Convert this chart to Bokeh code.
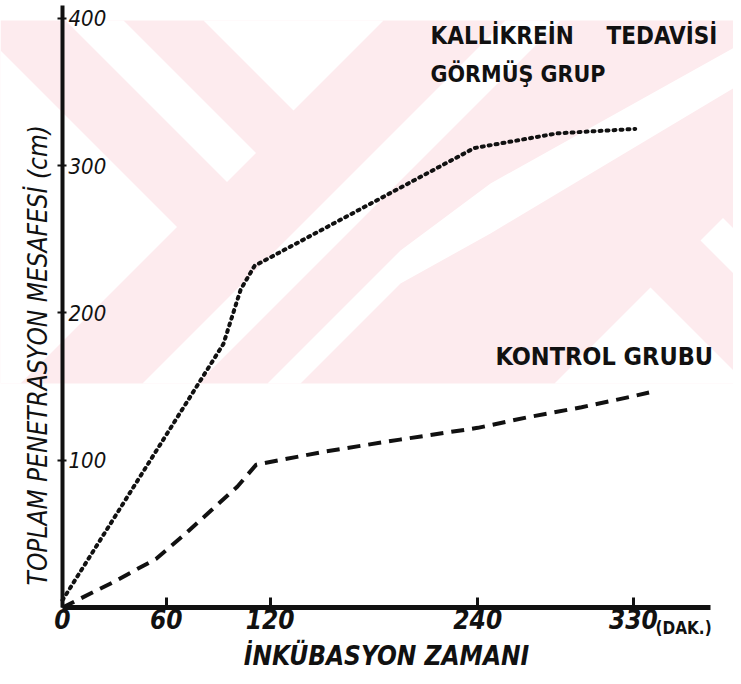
from math import pi
from bokeh.plotting import figure
from bokeh.models import FixedTicker, Label, PolyAnnotation, Range1d
from bokeh.core.properties import value
from bokeh.embed import file_html
from bokeh.resources import INLINE

# ---------------- data ----------------
time_kallikrein = [0, 93, 103, 111, 238, 286, 331]          # dakika
dist_kallikrein = [5, 179, 216, 232, 312, 322, 325]         # cm
time_kontrol = [0, 29, 54, 71, 86, 101, 112, 152, 195, 240, 268, 300, 328, 339]
dist_kontrol = [0, 17, 33, 50, 66, 82, 97, 106, 114, 122, 129, 136, 143, 146]
x_ticks = [0, 60, 120, 240, 330]
y_ticks = [100, 200, 300, 400]

x_title = "İNKÜBASYON ZAMANI"
y_title = "TOPLAM PENETRASYON MESAFESİ (cm)"
x_unit = "(DAK.)"
kallikrein_words = ["KALLİKREİN", "TEDAVİSİ"]
kallikrein_line2 = "GÖRMÜŞ GRUP"
kontrol_text = "KONTROL GRUBU"

HAND = "'Liberation Sans Narrow', 'DejaVu Sans Condensed', 'Liberation Sans', sans-serif"
INK = "#111111"
PINK = "#fdebee"

W, H = 733, 676
p = figure(width=W, height=H, output_backend="svg", toolbar_location=None,
           x_range=Range1d(-35.83, 387.8), y_range=Range1d(-46.86, 412.2),
           min_border=0, y_axis_location="right",
           border_fill_color="white", background_fill_color="white")
p.grid.visible = False
p.outline_line_color = None

# ---------------- background watermark of the scan (canvas px) -------------
white_shapes = [
    [(0, 50), (176.5, 226.5), (20, 383), (0, 383)],
    [(65, 20), (123, 20), (255.5, 152.5), (226.5, 181.5)],
    [(203, 20), (383, 20), (293, 110)],
    [(505, 20), (560, 20), (197, 383), (142, 383)],
    [(267, 383), (400, 250), (490, 183), (741, 43), (741, 83), (490, 233), (400, 283), (300, 383)],
    [(650, 287), (741, 378), (741, 383), (554, 383)],
    [(700, 240), (722.5, 217.5), (741, 236), (741, 281)],
]
p.add_layout(PolyAnnotation(xs=[0, 741, 741, 0], ys=[20, 20, 383, 383],
                            xs_units="canvas", ys_units="canvas",
                            fill_color=PINK, fill_alpha=1.0, line_color=None,
                            level="underlay"))
for shape in white_shapes:
    p.add_layout(PolyAnnotation(xs=[q[0] for q in shape], ys=[q[1] for q in shape],
                                xs_units="canvas", ys_units="canvas",
                                fill_color="white", fill_alpha=1.0, line_color=None,
                                level="underlay"))

# ---------------- axes (drawn through the origin, as in the drawing) -------
xa = p.xaxis[0]
xa.fixed_location = 0
xa.bounds = (0, 374.5)
xa.ticker = FixedTicker(ticks=x_ticks)
xa.axis_line_width = 5
xa.axis_line_color = INK
xa.major_tick_in = 10
xa.major_tick_out = 0
xa.major_tick_line_width = 3
xa.major_tick_line_color = INK
xa.minor_tick_line_color = None
xa.major_label_text_font = HAND
xa.major_label_text_font_size = "26px"
xa.major_label_text_font_style = "bold italic"
xa.major_label_text_color = INK
xa.major_label_standoff = 2
xa.axis_label = x_title
xa.axis_label_text_font = HAND
xa.axis_label_text_font_size = "26px"
xa.axis_label_text_font_style = "bold italic"
xa.axis_label_text_color = INK
xa.axis_label_standoff = 8

ya = p.yaxis[0]
ya.fixed_location = 0
ya.bounds = (0, 409)
ya.ticker = FixedTicker(ticks=y_ticks)
ya.axis_line_width = 4
ya.axis_line_color = INK
ya.major_tick_in = 5
ya.major_tick_out = 4
ya.major_tick_line_width = 2
ya.major_tick_line_color = INK
ya.minor_tick_line_color = None
ya.major_label_text_font = HAND
ya.major_label_text_font_size = "22px"
ya.major_label_text_font_style = "italic"
ya.major_label_text_color = INK
ya.major_label_standoff = 2

# ---------------- series ----------------
p.line(time_kallikrein, dist_kallikrein, line_color=INK, line_width=4,
       line_dash="2 5", line_cap="round")
p.line(time_kontrol, dist_kontrol, line_color=INK, line_width=4,
       line_dash="13 8")

# ---------------- texts ----------------
p.add_layout(Label(x=0, y=15, x_offset=-24, text=y_title, angle=pi / 2,
                   text_align="left", text_baseline="middle",
                   text_font=HAND, text_font_size="26px", text_font_style="italic",
                   text_color=INK))
p.add_layout(Label(x=x_ticks[-1], y=0, x_offset=22, y_offset=-21, text=x_unit,
                   text_align="left", text_baseline="middle",
                   text_font=HAND, text_font_size="17px", text_font_style="bold",
                   text_color=INK))
p.add_layout(Label(x=212.7, y=397.3, text=kallikrein_words[0], text_align="left",
                   text_baseline="top", text_font=HAND, text_font_size="24px",
                   text_font_style="bold", text_color=INK))
p.add_layout(Label(x=314.4, y=397.3, text=kallikrein_words[1], text_align="left",
                   text_baseline="top", text_font=HAND, text_font_size="24px",
                   text_font_style="bold", text_color=INK))
p.add_layout(Label(x=212.7, y=371.4, text=kallikrein_line2, text_align="left",
                   text_baseline="top", text_font=HAND, text_font_size="23px",
                   text_font_style="bold", text_color=INK))
p.add_layout(Label(x=250.2, y=180.6, text=kontrol_text, text_align="left",
                   text_baseline="top", text_font=HAND, text_font_size="25px",
                   text_font_style="bold", text_color=INK))

open("out.html", "w").write(file_html(p, INLINE))
